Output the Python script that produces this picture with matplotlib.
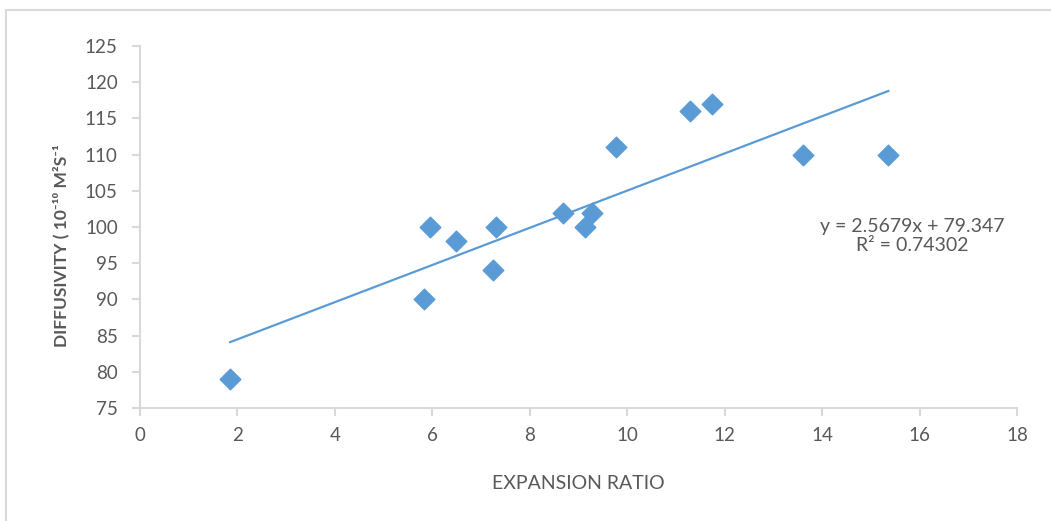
import numpy as np
import matplotlib.pyplot as plt
from matplotlib.patches import Rectangle

# ---------------- DATA ----------------
expansion_ratio = [1.85, 5.83, 5.95, 6.49, 7.25, 7.31, 8.69, 9.14, 9.28, 9.77, 11.29, 11.75, 13.61, 15.36]
diffusivity = [79, 90, 100, 98, 94, 100, 102, 100, 102, 111, 116, 117, 110, 110]

slope = 2.5679
intercept = 79.347
r2 = 0.74302

x_ticks = [0, 2, 4, 6, 8, 10, 12, 14, 16, 18]
y_ticks = [75, 80, 85, 90, 95, 100, 105, 110, 115, 120, 125]

# ---------------- STYLE ----------------
plt.rcParams['font.family'] = ['Lato', 'DejaVu Sans']
text_color = "#595959"
axis_color = "#d9d9d9"
point_color = "#5b9bd5"

fig = plt.figure(figsize=(10.51, 5.21), dpi=100)
ax = fig.add_axes([140 / 1051, 1 - 408 / 521, 877 / 1051, 362 / 521])

# outer chart border
fig.patches.append(Rectangle((6 / 1051, -0.05), 1.1, 1 - 10 / 521 + 0.05,
                             transform=fig.transFigure, fill=False,
                             edgecolor=axis_color, linewidth=1.5))

# ---------------- PLOT ----------------
ax.scatter(expansion_ratio, diffusivity, marker="D", s=110, color=point_color, zorder=3)

trend_x = np.array([min(expansion_ratio), max(expansion_ratio)])
ax.plot(trend_x, slope * trend_x + intercept, color=point_color, linewidth=1.6)

ax.text(15.85, 98.8, f"y = {slope}x + {intercept}\nR² = {r2}", ha="center", va="center",
        fontsize=14, color=text_color, linespacing=1.15)

ax.set_xlim(0, 18)
ax.set_ylim(75, 125)
ax.set_xticks(x_ticks)
ax.set_yticks(y_ticks)

for side in ["top", "right"]:
    ax.spines[side].set_visible(False)
for side in ["left", "bottom"]:
    ax.spines[side].set_color(axis_color)
    ax.spines[side].set_linewidth(1.5)

ax.tick_params(axis="both", colors=axis_color, labelcolor=text_color, labelsize=13.5,
               length=6, width=1.5)
ax.tick_params(axis="y", pad=10)
ax.tick_params(axis="x", pad=8)

ax.set_xlabel("EXPANSION RATIO", fontsize=14, color=text_color)
ax.xaxis.set_label_coords(0.5, -0.185)
ax.set_ylabel("DIFFUSIVITY ( 10⁻¹⁰ M²S⁻¹", fontsize=12.5, color=text_color,
              fontweight="bold")
ax.yaxis.set_label_coords(-0.081, 0.45)

plt.savefig("out.png", dpi=100)
